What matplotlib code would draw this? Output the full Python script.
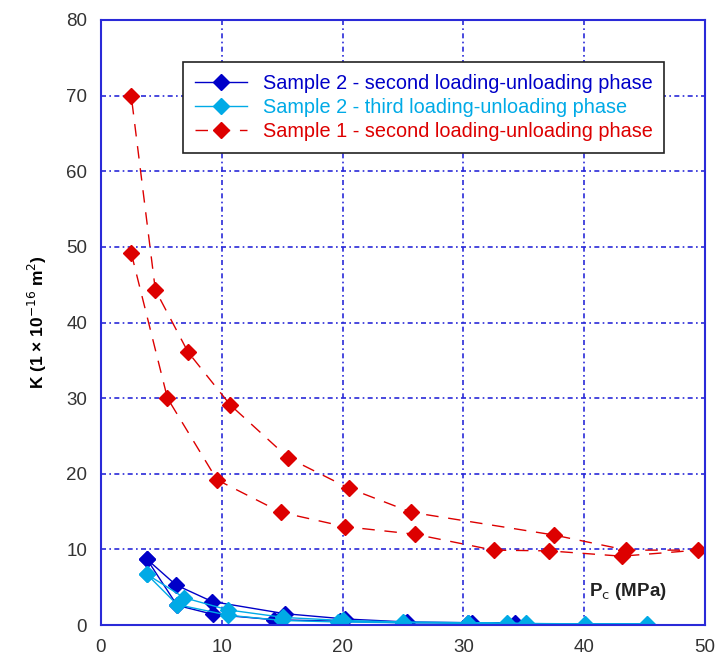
import matplotlib
matplotlib.use('Agg')
import matplotlib.pyplot as plt

plt.rcParams['font.family'] = ['Liberation Sans', 'DejaVu Sans']

# Sample 2 - second loading-unloading phase
s2_second_p = [3.8, 6.2, 9.2, 15.2, 20.2, 25.3, 30.7, 34.3, 30.4, 25.1, 19.8, 14.3, 9.3, 6.3, 3.8]
s2_second_k = [8.7, 5.3, 3.1, 1.5, 0.8, 0.4, 0.3, 0.2, 0.3, 0.3, 0.5, 0.7, 1.4, 2.6, 8.7]

# Sample 2 - third loading-unloading phase
s2_third_p = [3.8, 6.9, 10.5, 15.1, 20.0, 25.0, 30.4, 35.2, 40.1, 45.2, 33.6, 25.0, 19.6, 15.0, 10.5, 6.3, 3.8]
s2_third_k = [6.7, 3.6, 2.0, 1.0, 0.6, 0.4, 0.3, 0.2, 0.15, 0.1, 0.2, 0.3, 0.4, 0.6, 1.3, 2.7, 6.7]

# Sample 1 - second loading-unloading phase
s1_second_p = [2.5, 5.5, 9.6, 14.9, 20.2, 26.0, 32.5, 37.1, 43.1, 49.4, 43.5, 37.5, 25.7, 20.5, 15.5, 10.7, 7.2, 4.5, 2.5]
s1_second_k = [49.2, 30.0, 19.2, 14.9, 13.0, 12.0, 9.9, 9.8, 9.1, 9.9, 9.9, 11.9, 14.9, 18.1, 22.1, 29.1, 36.1, 44.3, 70.0]

frame_blue = '#2a2ad8'

fig = plt.figure(figsize=(7.16, 6.66), dpi=100)
ax = fig.add_axes([101/716, 41/666, 604/716, 605/666])

ax.plot(s2_second_p, s2_second_k, color='#0000c8', lw=1, marker='D', ms=8,
        label='Sample 2 - second loading-unloading phase')
ax.plot(s2_third_p, s2_third_k, color='#00aae6', lw=1, marker='D', ms=8,
        label='Sample 2 - third loading-unloading phase')
ax.plot(s1_second_p, s1_second_k, color='#dd0000', lw=1, marker='D', ms=8,
        dashes=(9, 7), label='Sample 1 - second loading-unloading phase')

ax.set_xlim(0, 50)
ax.set_ylim(0, 80)
ax.set_xticks(range(0, 51, 10))
ax.set_yticks(range(0, 81, 10))
ax.grid(True, color=frame_blue, linestyle=(0, (3, 2, 1, 2)), lw=1.2)
ax.tick_params(length=0, pad=10, labelsize=13.5, labelcolor='#333333')
for s in ax.spines.values():
    s.set_color(frame_blue)
    s.set_linewidth(1.5)

ax.set_ylabel('K (1 × 10$^{\\mathrm{-16}}$ m$^\\mathrm{2}$)', fontweight='bold', fontsize=12.5, labelpad=12)
ax.text(43.6, 4.4, 'P$_\\mathrm{c}$ (MPa)', fontweight='bold', fontsize=13.5, ha='center', va='center',
        color='#222222')

leg = ax.legend(loc='upper left', bbox_to_anchor=(0.136, 0.93), borderaxespad=0,
                fontsize=14.3, fancybox=False, edgecolor='#222222', framealpha=1,
                handlelength=2.6, labelspacing=0.25, borderpad=0.6)
leg.get_frame().set_linewidth(1.2)
for t, l in zip(leg.get_texts(), leg.get_lines()):
    t.set_color(l.get_color())

fig.savefig('out.png', dpi=100)
